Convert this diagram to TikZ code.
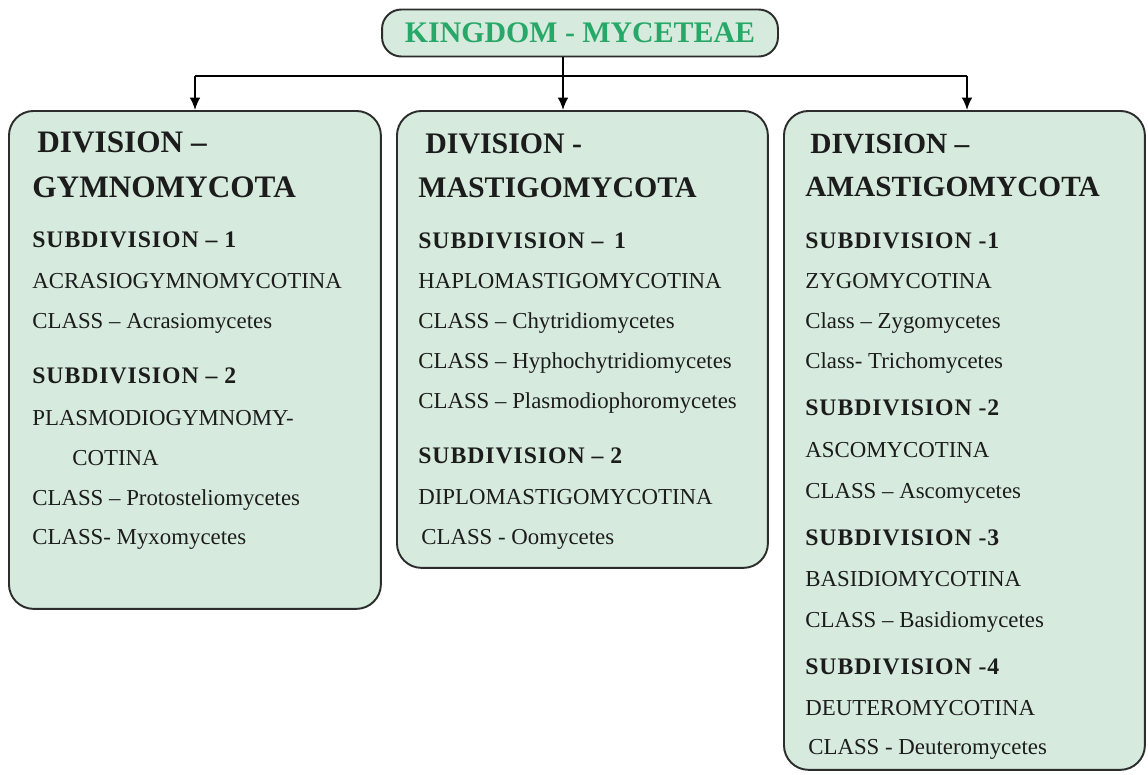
\documentclass[tikz,border=0pt]{standalone}
\usepackage{fontspec}
\setmainfont{Liberation Serif}
\usepackage{xcolor}
\usetikzlibrary{arrows.meta,positioning}

\definecolor{boxgreen}{RGB}{214,235,221}
\definecolor{kinggreen}{RGB}{40,168,104}
\definecolor{edgegray}{RGB}{45,45,45}
\definecolor{inkgray}{RGB}{28,28,28}

\begin{document}
\begin{tikzpicture}[
        x=0.02cm, y=-0.02cm,
        kingbox/.style={rectangle, draw=edgegray, line width=1.1pt, fill=boxgreen, rounded corners=11pt, minimum width=7.92cm, minimum height=0.94cm, text=kinggreen, font=\fontsize{17}{20}\selectfont\bfseries},
        divbox/.style={rectangle, draw=edgegray, line width=1.1pt, fill=boxgreen, rounded corners=14pt, anchor=north west},
        heading/.style={anchor=base west, inner sep=0pt, text=inkgray, font=\fontsize{#1}{20}\selectfont\bfseries},
        heading/.default=17.5,
        subdiv/.style={anchor=base west, inner sep=0pt, text=inkgray, font=\fontsize{13.5}{16}\selectfont\bfseries\addfontfeatures{LetterSpace=4}},
        entry/.style={anchor=base west, inner sep=0pt, text=inkgray, font=\fontsize{13}{16}\selectfont},
        link/.style={draw=black, line width=1pt},
        ]

        % Background box
        \useasboundingbox (0,0) rectangle (1148,774);

        % Kingdom box
        \node[kingbox] (kingdom) at (580,33) {KINGDOM - MYCETEAE};

        % Division boxes
        \node[divbox, minimum width=7.44cm, minimum height=9.96cm] (gymno) at (8,110) {};
        \node[divbox, minimum width=7.42cm, minimum height=9.14cm] (masti) at (396,110) {};
        \node[divbox, minimum width=7.22cm, minimum height=13.18cm] (amasti) at (783,110) {};

        % Gymnomycota
        \node[heading=17.8] (g1) at (37,152) {DIVISION –};
        \node[heading=17.8] (g2) at (32,197) {GYMNOMYCOTA};
        \node[subdiv] (g3) at (32,247) {SUBDIVISION – 1};
        \node[entry] (g4) at (32,288) {ACRASIOGYMNOMYCOTINA};
        \node[entry] (g5) at (32,328) {CLASS – Acrasiomycetes};
        \node[subdiv] (g6) at (32,383) {SUBDIVISION – 2};
        \node[entry] (g7) at (32,425) {PLASMODIOGYMNOMY-};
        \node[entry] (g8) at (72,465) {COTINA};
        \node[entry] (g9) at (32,505) {CLASS – Protosteliomycetes};
        \node[entry] (g10) at (32,544) {CLASS- Myxomycetes};

        % Mastigomycota
        \node[heading=17] (m1) at (425,153) {DIVISION -};
        \node[heading=17] (m2) at (418,197) {MASTIGOMYCOTA};
        \node[subdiv] (m3) at (418,248) {SUBDIVISION –\, 1};
        \node[entry] (m4) at (418,288) {HAPLOMASTIGOMYCOTINA};
        \node[entry] (m5) at (418,328) {CLASS – Chytridiomycetes};
        \node[entry] (m6) at (418,368) {CLASS – Hyphochytridiomycetes};
        \node[entry] (m7) at (418,408) {CLASS – Plasmodiophoromycetes};
        \node[subdiv] (m8) at (418,463) {SUBDIVISION – 2};
        \node[entry] (m9) at (418,504) {DIPLOMASTIGOMYCOTINA};
        \node[entry] (m10) at (421,544) {CLASS - Oomycetes};

        % Amastigomycota
        \node[heading=16.7] (a1) at (810,153) {DIVISION –};
        \node[heading=16.7] (a2) at (805,196) {AMASTIGOMYCOTA};
        \node[subdiv] (a3) at (805,248) {SUBDIVISION -1};
        \node[entry] (a4) at (805,288) {ZYGOMYCOTINA};
        \node[entry] (a5) at (805,328) {Class – Zygomycetes};
        \node[entry] (a6) at (805,368) {Class- Trichomycetes};
        \node[subdiv] (a7) at (805,415) {SUBDIVISION -2};
        \node[entry] (a8) at (805,457) {ASCOMYCOTINA};
        \node[entry] (a9) at (805,498) {CLASS – Ascomycetes};
        \node[subdiv] (a10) at (805,545) {SUBDIVISION -3};
        \node[entry] (a11) at (805,586) {BASIDIOMYCOTINA};
        \node[entry] (a12) at (805,627) {CLASS – Basidiomycetes};
        \node[subdiv] (a13) at (805,674) {SUBDIVISION -4};
        \node[entry] (a14) at (805,715) {DEUTEROMYCOTINA};
        \node[entry] (a15) at (808,754) {CLASS - Deuteromycetes};

        % Arrows from the kingdom
        \coordinate (busL) at (195,76);
        \coordinate (busM) at (563,76);
        \coordinate (busR) at (967,76);
        \draw[link] (busL) -- (busR);
        \draw[link, -{Latex[length=7pt, width=6pt]}] (kingdom.south -| busM) -- (busM |- masti.north);
        \draw[link, -{Latex[length=7pt, width=6pt]}] (busL) -- (busL |- gymno.north);
        \draw[link, -{Latex[length=7pt, width=6pt]}] (busR) -- (busR |- amasti.north);

    \end{tikzpicture}
\end{document}
